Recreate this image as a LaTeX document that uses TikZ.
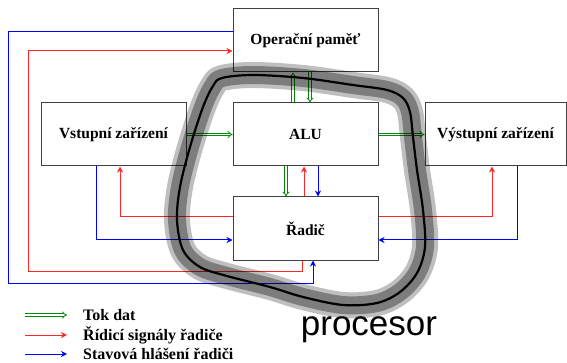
\documentclass[tikz,border=0pt]{standalone}
\usepackage{fontspec}
\setmainfont{Liberation Serif}
\setsansfont{Liberation Sans}
\usetikzlibrary{arrows.meta}

\begin{document}
\begin{tikzpicture}[x=1pt,y=-1pt,
      unit/.style={draw=black!75,line width=1pt,fill=white,minimum width=145pt,
        minimum height=63pt,inner sep=0pt,font=\bfseries\fontsize{15.5}{18}\selectfont},
      dat/.style={draw=green!55!black,double=white,double distance=1.6pt,line width=0.8pt,
        -{Implies}},
      ctrl/.style={red!85!white,line width=1pt,-{Stealth[length=6pt,width=6pt,inset=2pt]}},
      stat/.style={blue,line width=1pt,-{Stealth[length=6pt,width=6pt,inset=2pt]}},
      legend/.style={anchor=west,inner sep=0pt,font=\bfseries\fontsize{16}{18}\selectfont},
      halo/.style={black,line join=round,line cap=round}]
    \fill[white] (0,0) rectangle (567,363);
    \useasboundingbox (0,0) rectangle (567,363);
    % the five units of the computer
    \node[unit] (mem) at (305.5,40.5) {Operační paměť};
    \node[unit] (in)  at (113.5,134.5) {Vstupní zařízení};
    \node[unit] (alu) at (305.5,134.5) {ALU};
    \node[unit,minimum width=141pt] (out) at (495.5,134.5) {Výstupní zařízení};
    \node[unit] (ctl) at (305.5,228.5) {Řadič};
    % data flow
    \draw[dat] (in) -- (alu);
    \draw[dat] (alu) -- (out);
    \draw[dat] ([xshift=-12.5pt]alu.north) -- ([xshift=-12.5pt]mem.south);
    \draw[dat] ([xshift=4.5pt]mem.south) -- ([xshift=4.5pt]alu.north);
    \draw[dat] ([xshift=-19.5pt]alu.south) -- ([xshift=-19.5pt]ctl.north);
    % control signals from the controller
    \draw[ctrl] ([xshift=-1.5pt]ctl.north) -- ([xshift=-1.5pt]alu.south);
    \draw[ctrl] ([yshift=11.5pt]ctl.west) -| ([xshift=6.5pt]in.south);
    \draw[ctrl] ([yshift=11.5pt]ctl.east) -| ([xshift=-3.5pt]out.south);
    \draw[ctrl] ([xshift=-3.5pt]ctl.south) |- (28,271) |- ([yshift=-10.5pt]mem.west);
    % status reports to the controller
    \draw[stat] ([xshift=12.5pt]alu.south) -- ([xshift=12.5pt]ctl.north);
    \draw[stat] ([xshift=-17.5pt]in.south) |- ([yshift=-11.5pt]ctl.west);
    \draw[stat] ([xshift=21.5pt]out.south) |- ([yshift=-11.5pt]ctl.east);
    \draw[stat] ([yshift=8.5pt]mem.west) -| (8,283) -| ([xshift=7.5pt]ctl.south);
    % the processor outline
    \foreach \w/\o in {26/.25,18/.34}{
      \draw[halo,line width=\w pt,opacity=\o] plot[smooth cycle,tension=.55] coordinates {
        (222,78) (253,75) (303,78) (353,85) (387,90) (403,98) (410,112) (413,137)
        (417,170) (423,210) (425,247) (417,273) (400,292) (377,303) (343,305)
        (303,297) (270,287) (227,276) (200,267) (183,250) (177,220) (180,187)
        (190,147) (203,107) (213,86)};}
    \draw[halo,line width=2.2pt] plot[smooth cycle,tension=.55] coordinates {
        (222,78) (253,75) (303,78) (353,85) (387,90) (403,98) (410,112) (413,137)
        (417,170) (423,210) (425,247) (417,273) (400,292) (377,303) (343,305)
        (303,297) (270,287) (227,276) (200,267) (183,250) (177,220) (180,187)
        (190,147) (203,107) (213,86)};
    \node[anchor=base,inner sep=0pt,font=\sffamily\fontsize{35}{40}\selectfont] (cpu)
      at (369,335) {procesor};
    % legend
    \node[legend] (tok) at (83,315) {Tok dat};
    \node[legend] (rid) at (83,335) {Řídicí signály řadiče};
    \node[legend] (hla) at (83,354) {Stavová hlášení řadiči};
    \draw[dat] ([xshift=-58pt]tok.west) -- ([xshift=-16pt]tok.west);
    \draw[ctrl] ([xshift=-58pt]rid.west) -- ([xshift=-16pt]rid.west);
    \draw[stat] ([xshift=-58pt]hla.west) -- ([xshift=-16pt]hla.west);
  \end{tikzpicture}
\end{document}
